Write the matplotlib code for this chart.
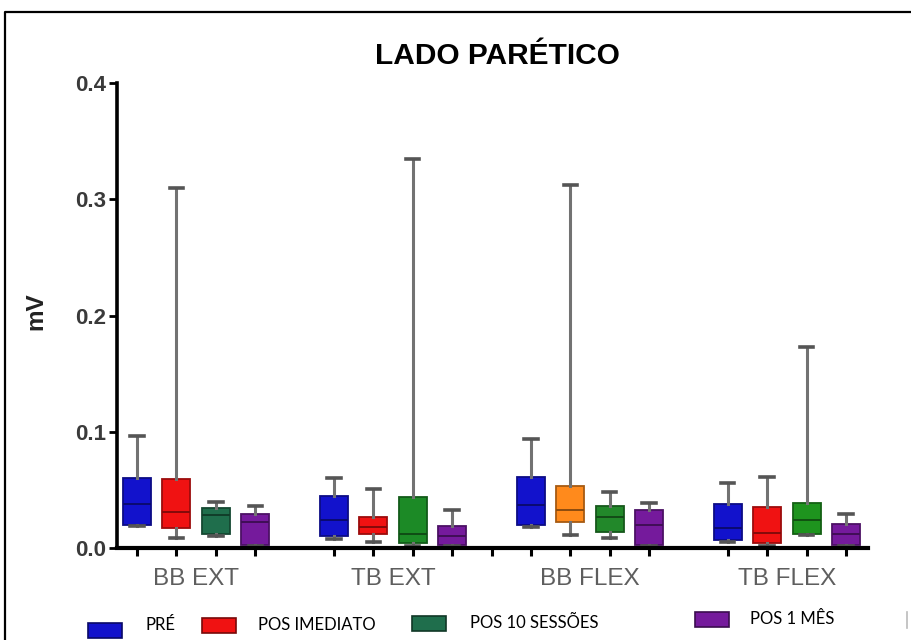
import matplotlib
matplotlib.use('Agg')
import matplotlib.pyplot as plt
from matplotlib.patches import Rectangle
from matplotlib.lines import Line2D

plt.rcParams['font.family'] = ['Liberation Sans', 'DejaVu Sans']

# ---- data ----
GROUPS = ['BB EXT', 'TB EXT', 'BB FLEX', 'TB FLEX']
SERIES = ['PRÉ', 'POS IMEDIATO', 'POS 10 SESSÕES', 'POS 1 MÊS']

# one entry per box, group by group (4 boxes per group)
whislo = [0.019, 0.009, 0.010, 0.002,
          0.008, 0.005, 0.002, 0.002,
          0.018, 0.011, 0.009, 0.002,
          0.005, 0.002, 0.011, 0.002]
q1 = [0.020, 0.017, 0.012, 0.003,
      0.010, 0.012, 0.004, 0.003,
      0.020, 0.022, 0.014, 0.003,
      0.007, 0.004, 0.012, 0.003]
med = [0.038, 0.031, 0.028, 0.022,
       0.024, 0.018, 0.012, 0.010,
       0.037, 0.033, 0.027, 0.020,
       0.017, 0.013, 0.024, 0.012]
q3 = [0.060, 0.059, 0.034, 0.029,
      0.045, 0.027, 0.044, 0.019,
      0.061, 0.053, 0.036, 0.033,
      0.038, 0.035, 0.039, 0.021]
whishi = [0.096, 0.310, 0.040, 0.036,
          0.060, 0.051, 0.335, 0.033,
          0.094, 0.312, 0.048, 0.039,
          0.056, 0.061, 0.173, 0.029]

BLUE, RED, PURPLE, ORANGE = '#1212cc', '#f01212', '#751a9c', '#ff8a1c'
box_colors = [BLUE, RED, '#1f6e4c', PURPLE,
              BLUE, RED, '#1c8a26', PURPLE,
              BLUE, ORANGE, '#22882a', PURPLE,
              BLUE, RED, '#1e941e', PURPLE]
legend_colors = [BLUE, RED, '#1f6e4c', PURPLE]

# slot positions: 4 boxes, one empty slot, 4 boxes ...
positions = [g * 5 + k + 1 for g in range(len(GROUPS)) for k in range(4)]


def darker(c, f=0.6):
    r, g, b = matplotlib.colors.to_rgb(c)
    return (r * f, g * f, b * f)


fig = plt.figure(figsize=(9.12, 6.4), dpi=100)
ax = fig.add_axes([117 / 912, 1 - 548 / 640, (868 - 117) / 912, (548 - 83) / 640])

stats = [dict(whislo=a, q1=b, med=c, q3=d, whishi=e, fliers=[])
         for a, b, c, d, e in zip(whislo, q1, med, q3, whishi)]
bp = ax.bxp(stats, positions=positions, widths=0.71, patch_artist=True,
            showfliers=False,
            whiskerprops=dict(color='#727272', linewidth=2.2),
            capprops=dict(color='#555555', linewidth=2.6),
            medianprops=dict(linewidth=1.4),
            boxprops=dict(linewidth=1.3))
for i, col in enumerate(box_colors):
    bp['boxes'][i].set_facecolor(col)
    bp['boxes'][i].set_edgecolor(darker(col, 0.65))
    bp['medians'][i].set_color(darker(col, 0.55))
for cap in bp['caps']:
    x0, x1 = cap.get_xdata()
    c = (x0 + x1) / 2
    cap.set_xdata([c - 0.17, c + 0.17])

ax.set_xlim(0.49, 19.56)
ax.set_ylim(0, 0.4)
ax.set_yticks([0.0, 0.1, 0.2, 0.3, 0.4])
ax.set_yticklabels(['0.0', '0.1', '0.2', '0.3', '0.4'])
ax.set_xticks(positions + [10])
ax.set_xticklabels([''] * (len(positions) + 1))
for s in ('top', 'right'):
    ax.spines[s].set_visible(False)
ax.spines['left'].set_linewidth(2.6)
ax.spines['bottom'].set_linewidth(3.0)
ax.tick_params(axis='y', direction='out', length=6, width=2, labelsize=16,
               labelcolor='#3a3a3a', pad=2)
ax.tick_params(axis='x', direction='out', length=6, width=2.2)
for lab in ax.get_yticklabels():
    lab.set_fontweight('bold')

for g, name in enumerate(GROUPS):
    ax.text(g * 5 + 2.5, -0.066, name, transform=ax.get_xaxis_transform(),
            ha='center', va='center', fontsize=17.5, color='#5e5e5e')

fig.text(36 / 912, 1 - 311 / 640, 'mV', rotation=90, ha='center', va='center',
         fontsize=17.5, fontweight='bold', color='#222222')
fig.text(497 / 912, 1 - 56 / 640, 'LADO PARÉTICO', ha='center', va='center',
         fontsize=21.5, fontweight='bold', color='black')

# frame around the picture (left and top only are visible)
fig.add_artist(Line2D([5 / 912, 5 / 912, 1.0], [0.0, 1 - 12 / 640, 1 - 12 / 640],
                      color='black', linewidth=1.6, transform=fig.transFigure))
fig.add_artist(Line2D([907 / 912, 907 / 912], [1 - 628 / 640, 1 - 612 / 640],
                      color='#bbbbbb', linewidth=1.2, transform=fig.transFigure))

# legend, hand placed as in the source
patch_x = [88, 202, 412, 695]
text_x = [146, 258, 470, 750]
row_y = [630, 625, 623, 619]
for name, col, px, tx, yy in zip(SERIES, legend_colors, patch_x, text_x, row_y):
    fig.add_artist(Rectangle((px / 912, 1 - (yy + 8) / 640), 34 / 912, 15 / 640,
                             facecolor=col, edgecolor=darker(col, 0.5),
                             linewidth=1.2, transform=fig.transFigure))
    fig.text(tx / 912, 1 - (yy - 5) / 640 if name == 'PRÉ' else 1 - yy / 640,
             name, ha='left', va='center', fontsize=12,
             family=['Lato', 'DejaVu Sans'], color='black')

fig.savefig('out.png', dpi=100, facecolor='white')
